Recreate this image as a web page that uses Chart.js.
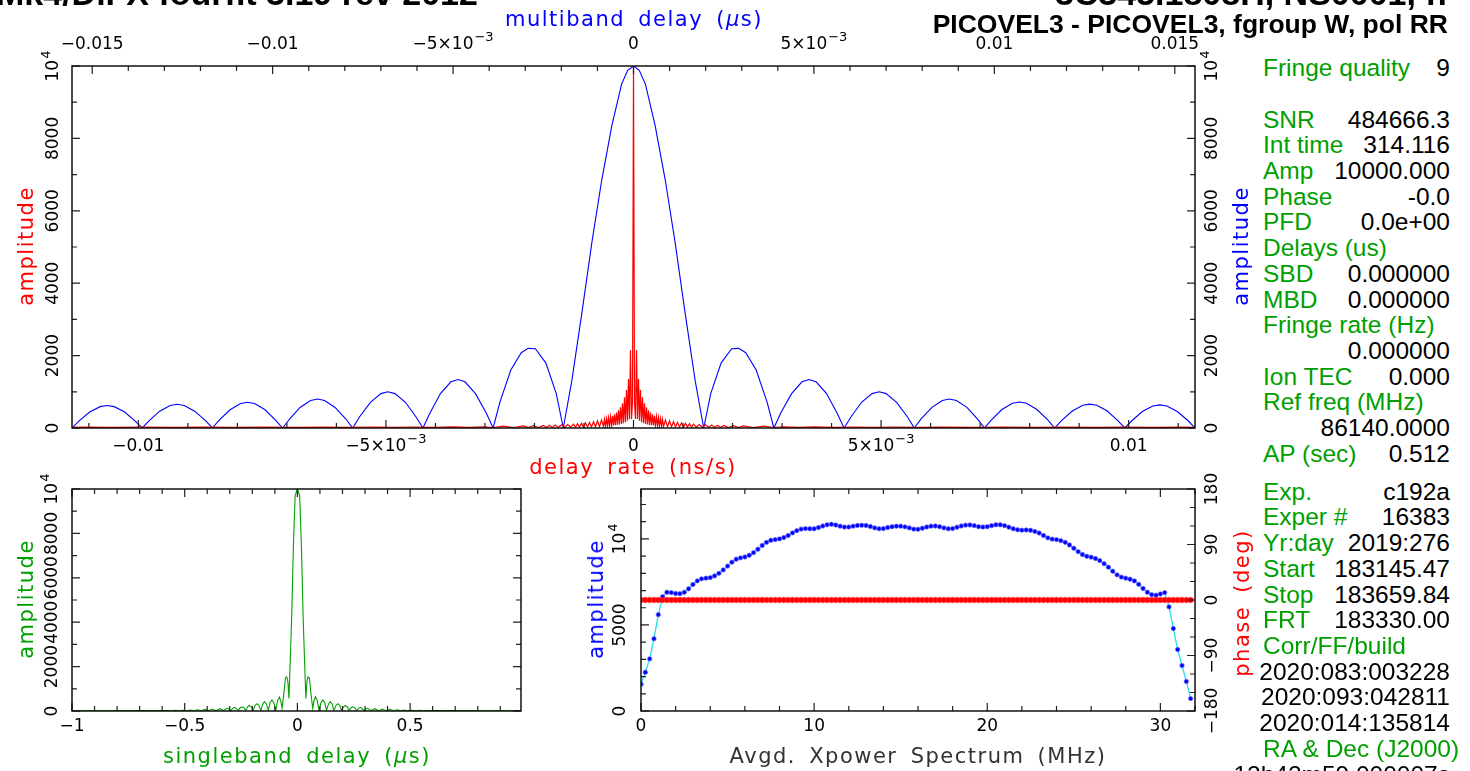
<!DOCTYPE html>
<html><head><meta charset="utf-8">
<script src="https://cdn.jsdelivr.net/npm/chart.js@4.4.0/dist/chart.umd.min.js"></script>
<style>
html,body{margin:0;padding:0;background:#fff;}
#wrap{position:relative;width:1470px;height:771px;overflow:hidden;background:#fff}
canvas{position:absolute}
.t{position:absolute;white-space:nowrap;font-family:"DejaVu Sans",sans-serif;font-size:21px;letter-spacing:1.5px;word-spacing:5px;line-height:24px}
.c{transform:translate(-50%,-50%)}
.v{transform:translate(-50%,-50%) rotate(-90deg)}
.hd{position:absolute;white-space:nowrap;font-family:"Liberation Sans",Arial,sans-serif;font-weight:bold;color:#000}
.row{position:absolute;left:1263px;width:187px;height:26px;font-family:"Liberation Sans",Arial,sans-serif;font-size:24.5px;line-height:26px;white-space:nowrap}
.row .l{color:#009f00;position:absolute;left:0;top:0}
.row .r{color:#000;position:absolute;right:0;top:0}
</style></head>
<body><div id="wrap">
<canvas id="cMain" width="1250" height="480" style="left:0;top:0"></canvas>
<canvas id="cSbd" width="560" height="311" style="left:0;top:460px"></canvas>
<canvas id="cSpec" width="690" height="311" style="left:560px;top:460px"></canvas>

<div class="hd" style="left:-4px;top:-24px;font-size:34px;line-height:34px">Mk4/DiFX fourfit 3.19 rev 2012</div>
<div class="hd" style="right:22px;top:-24px;font-size:34px;line-height:34px">3C345.1808H, NS0001, ff</div>
<div class="hd" style="right:22px;top:9px;font-size:26.5px;line-height:30px">PICOVEL3 - PICOVEL3, fgroup W, pol RR</div>

<div class="t c" style="left:634px;top:19px;color:#0000ff">multiband delay (<i>μ</i>s)</div>
<div class="t c" style="left:633px;top:467px;color:#ff0000">delay rate (ns/s)</div>
<div class="t v" style="left:26px;top:246px;color:#ff0000">amplitude</div>
<div class="t v" style="left:1241px;top:246px;color:#0000ff">amplitude</div>
<div class="t c" style="left:297px;top:756px;color:#009f00">singleband delay (<i>μ</i>s)</div>
<div class="t v" style="left:26px;top:599px;color:#009f00">amplitude</div>
<div class="t c" style="left:918px;top:756px;color:#333">Avgd. Xpower Spectrum (MHz)</div>
<div class="t v" style="left:596px;top:599px;color:#0000ff">amplitude</div>
<div class="t v" style="left:1242px;top:603px;color:#ff0000">phase (deg)</div>

<div class="row" style="top:55px"><span class="l">Fringe quality</span><span class="r">9</span></div>
<div class="row" style="top:107px"><span class="l">SNR</span><span class="r">484666.3</span></div>
<div class="row" style="top:132px"><span class="l">Int time</span><span class="r">314.116</span></div>
<div class="row" style="top:158px"><span class="l">Amp</span><span class="r">10000.000</span></div>
<div class="row" style="top:184px"><span class="l">Phase</span><span class="r">-0.0</span></div>
<div class="row" style="top:209px"><span class="l">PFD</span><span class="r">0.0e+00</span></div>
<div class="row" style="top:235px"><span class="l">Delays (us)</span></div>
<div class="row" style="top:261px"><span class="l">SBD</span><span class="r">0.000000</span></div>
<div class="row" style="top:287px"><span class="l">MBD</span><span class="r">0.000000</span></div>
<div class="row" style="top:312px"><span class="l">Fringe rate (Hz)</span></div>
<div class="row" style="top:338px"><span class="r">0.000000</span></div>
<div class="row" style="top:364px"><span class="l">Ion TEC</span><span class="r">0.000</span></div>
<div class="row" style="top:389px"><span class="l">Ref freq (MHz)</span></div>
<div class="row" style="top:415px"><span class="r">86140.0000</span></div>
<div class="row" style="top:441px"><span class="l">AP (sec)</span><span class="r">0.512</span></div>
<div class="row" style="top:479px"><span class="l">Exp.</span><span class="r">c192a</span></div>
<div class="row" style="top:504px"><span class="l">Exper #</span><span class="r">16383</span></div>
<div class="row" style="top:530px"><span class="l">Yr:day</span><span class="r">2019:276</span></div>
<div class="row" style="top:556px"><span class="l">Start</span><span class="r">183145.47</span></div>
<div class="row" style="top:582px"><span class="l">Stop</span><span class="r">183659.84</span></div>
<div class="row" style="top:607px"><span class="l">FRT</span><span class="r">183330.00</span></div>
<div class="row" style="top:633px"><span class="l">Corr/FF/build</span></div>
<div class="row" style="top:659px"><span class="r">2020:083:003228</span></div>
<div class="row" style="top:684px"><span class="r">2020:093:042811</span></div>
<div class="row" style="top:710px"><span class="r">2020:014:135814</span></div>
<div class="row" style="top:736px"><span class="l">RA &amp; Dec (J2000)</span></div>
<div class="row" style="top:762px"><span class="r">12h42m59.000007s</span></div>
</div>
<script>
// ---------- delay-rate spectrum (red, ns/s) ----------
const rateDelay = [
 -1.134e-2,-1.11e-2,-1.05e-2,-9.90e-3,-9.29e-3,-8.69e-3,-8.08e-3,-7.47e-3,-6.87e-3,-6.26e-3,-5.76e-3,-5.25e-3,-4.85e-3,-4.44e-3,-4.04e-3,-3.64e-3,-3.33e-3,-3.03e-3,-2.83e-3,-2.63e-3,-2.42e-3,-2.22e-3,-2.12e-3,-2.02e-3,-1.92e-3,-1.82e-3,-1.76e-3,-1.70e-3,-1.64e-3,-1.58e-3,-1.52e-3,-1.45e-3,-1.39e-3,-1.33e-3,-1.27e-3,-1.21e-3,-1.17e-3,-1.13e-3,-1.09e-3,-1.05e-3,-1.01e-3,
 -9.70e-4,-9.29e-4,-8.89e-4,-8.48e-4,-8.08e-4,-7.68e-4,-7.27e-4,-6.87e-4,-6.46e-4,-6.06e-4,-5.86e-4,-5.66e-4,-5.45e-4,-5.25e-4,-5.05e-4,-4.85e-4,-4.65e-4,-4.44e-4,-4.24e-4,-4.04e-4,-3.84e-4,-3.64e-4,-3.43e-4,-3.23e-4,-3.03e-4,-2.83e-4,-2.63e-4,-2.42e-4,-2.22e-4,-2.02e-4,-1.82e-4,-1.62e-4,-1.41e-4,-1.21e-4,-1.01e-4,-8.1e-5,-6.1e-5,-4.0e-5,-2.0e-5,
 0,
 2.0e-5,4.0e-5,6.1e-5,8.1e-5,1.01e-4,1.21e-4,1.41e-4,1.62e-4,1.82e-4,2.02e-4,2.22e-4,2.42e-4,2.63e-4,2.83e-4,3.03e-4,3.23e-4,3.43e-4,3.64e-4,3.84e-4,4.04e-4,4.24e-4,4.44e-4,4.65e-4,4.85e-4,5.05e-4,5.25e-4,5.45e-4,5.66e-4,5.86e-4,6.06e-4,6.46e-4,6.87e-4,7.27e-4,7.68e-4,8.08e-4,8.48e-4,8.89e-4,9.29e-4,9.70e-4,
 1.01e-3,1.05e-3,1.09e-3,1.13e-3,1.17e-3,1.21e-3,1.27e-3,1.33e-3,1.39e-3,1.45e-3,1.52e-3,1.58e-3,1.64e-3,1.70e-3,1.76e-3,1.82e-3,1.92e-3,2.02e-3,2.12e-3,2.22e-3,2.42e-3,2.63e-3,2.83e-3,3.03e-3,3.33e-3,3.64e-3,4.04e-3,4.44e-3,4.85e-3,5.25e-3,5.76e-3,6.26e-3,6.87e-3,7.47e-3,8.08e-3,8.69e-3,9.29e-3,9.90e-3,1.05e-2,1.11e-2,1.134e-2
];
const rateAmp = [
 18,24,16,24,16,25,16,25,17,26,17,27,18,28,18,30,18,33,14,50,13,56,14,62,15,70,16,75,17,82,18,90,20,98,22,108,24,118,26,128,28,
 140,30,155,32,175,35,195,38,220,42,240,46,260,50,280,55,310,60,340,68,380,75,430,85,490,95,570,110,680,130,850,160,1050,200,1350,250,2150,250,700,
 10000,
 700,250,2150,250,1350,200,1050,160,850,130,680,110,570,95,490,85,430,75,380,68,340,60,310,55,280,50,260,46,240,42,220,38,195,35,175,32,155,30,140,
 28,128,26,118,24,108,22,98,20,90,18,82,17,75,16,70,15,62,14,56,13,50,14,33,18,30,18,28,18,27,17,26,17,25,16,25,16,24,16,24,18
];

// ---------- multiband delay function (blue, microseconds) ----------
const mbdDelay = [
 -0.01556,-0.01537,-0.01507,-0.01478,-0.01459,-0.01439,-0.01410,-0.01381,-0.013615,
 -0.01342,-0.01313,-0.01284,-0.01264,-0.01245,-0.01216,-0.01186,-0.01167,
 -0.01148,-0.01118,-0.01089,-0.01070,-0.01050,-0.01021,-0.00992,-0.009725,
 -0.00953,-0.00924,-0.00895,-0.00875,-0.00856,-0.00827,-0.00797,-0.00778,
 -0.00759,-0.00729,-0.00700,-0.00681,-0.00661,-0.00632,-0.00603,-0.005835,
 -0.00564,-0.00535,-0.00506,-0.00486,-0.00467,-0.00438,-0.00408,-0.00389,
 -0.00370,-0.00340,-0.00311,-0.00292,-0.00272,-0.00243,-0.00214,-0.001945,
 -0.00171,-0.00142,-0.00115,-0.00088,-0.00060,-0.00033,-0.00016,0,
 0.00016,0.00033,0.00060,0.00088,0.00115,0.00142,0.00171,0.001945,
 0.00214,0.00243,0.00272,0.00292,0.00311,0.00340,0.00370,0.00389,
 0.00408,0.00438,0.00467,0.00486,0.00506,0.00535,0.00564,0.005835,
 0.00603,0.00632,0.00661,0.00681,0.00700,0.00729,0.00759,0.00778,
 0.00797,0.00827,0.00856,0.00875,0.00895,0.00924,0.00953,0.009725,
 0.00992,0.01021,0.01050,0.01070,0.01089,0.01118,0.01148,0.01167,
 0.01186,0.01216,0.01245,0.01264,0.01284,0.01313,0.01342,0.013615,
 0.01381,0.01410,0.01439,0.01459,0.01478,0.01507,0.01537,0.01556
];
const mbdAmp = [
 0,192,440,590,620,590,440,192,0,
 203,465,622,655,622,465,203,0,
 220,504,675,710,675,504,220,0,
 248,568,760,800,760,568,248,0,
 310,710,950,1000,950,710,310,0,
 415,950,1275,1340,1275,950,415,0,
 720,1600,2080,2200,2190,1800,950,0,
 1300,3250,5150,6850,8350,9500,9880,10000,
 9880,9500,8350,6850,5150,3250,1300,0,
 950,1800,2190,2200,2080,1600,720,0,
 415,950,1275,1340,1275,950,415,0,
 310,710,950,1000,950,710,310,0,
 250,570,760,800,760,570,250,0,
 225,510,685,720,685,510,225,0,
 205,470,627,660,627,470,205,0,
 200,455,610,640,610,455,200,0
];

// ---------- singleband delay function (green, microseconds) ----------
const sbdDelay = [
 -1.000,-0.900,-0.800,-0.700,-0.620,-0.572,-0.556,-0.540,-0.524,-0.508,-0.491,-0.475,-0.459,-0.443,-0.426,-0.410,-0.393,-0.377,-0.360,-0.344,
 -0.328,-0.311,-0.295,-0.287,-0.279,-0.271,-0.262,-0.254,-0.246,-0.238,-0.229,-0.221,-0.213,-0.205,-0.196,-0.188,-0.179,-0.171,-0.162,-0.154,
 -0.146,-0.138,-0.129,-0.121,-0.113,-0.105,-0.096,-0.088,-0.080,-0.073,-0.068,-0.060,-0.053,-0.047,-0.042,-0.0375,-0.031,-0.025,-0.018,-0.010,
 0,
 0.010,0.018,0.025,0.031,0.0375,0.042,0.047,0.053,0.060,0.068,0.073,0.080,0.088,0.096,0.105,0.113,0.121,0.129,0.138,0.146,
 0.154,0.162,0.171,0.179,0.188,0.196,0.205,0.213,0.221,0.229,0.238,0.246,0.254,0.262,0.271,0.279,0.287,0.295,0.311,0.328,
 0.344,0.360,0.377,0.393,0.410,0.426,0.443,0.459,0.475,0.491,0.508,0.524,0.540,0.556,0.572,0.620,0.700,0.800,0.900,0.990
];
const sbdAmp = [
 10,14,12,18,20,22,10,30,10,35,12,45,12,55,14,70,15,90,16,105,
 18,130,20,120,160,120,22,145,190,145,24,190,250,190,26,250,330,250,28,320,
 425,320,30,380,500,380,32,480,630,420,120,800,1500,1540,1300,560,2500,4360,7370,9700,
 10000,
 9700,7370,4360,2500,560,1300,1540,1500,800,120,420,640,480,32,380,500,380,30,320,420,
 320,28,250,330,250,26,190,250,190,24,145,190,145,22,120,160,120,20,130,18,
 105,16,90,15,70,14,55,12,45,12,35,10,30,10,22,20,18,12,14,10
];

// ---------- averaged cross-power spectrum (MHz) ----------
const specFreq = [
 0,0.25,0.5,0.75,1,1.25,1.5,1.75, 2,2.25,2.5,2.75,3,3.25,3.5,3.75,
 4,4.25,4.5,4.75,5,5.25,5.5,5.75, 6,6.25,6.5,6.75,7,7.25,7.5,7.75,
 8,8.25,8.5,8.75,9,9.25,9.5,9.75, 10,10.25,10.5,10.75,11,11.25,11.5,11.75,
 12,12.25,12.5,12.75,13,13.25,13.5,13.75, 14,14.25,14.5,14.75,15,15.25,15.5,15.75,
 16,16.25,16.5,16.75,17,17.25,17.5,17.75, 18,18.25,18.5,18.75,19,19.25,19.5,19.75,
 20,20.25,20.5,20.75,21,21.25,21.5,21.75, 22,22.25,22.5,22.75,23,23.25,23.5,23.75,
 24,24.25,24.5,24.75,25,25.25,25.5,25.75, 26,26.25,26.5,26.75,27,27.25,27.5,27.75,
 28,28.25,28.5,28.75,29,29.25,29.5,29.75, 30,30.25,30.5,30.75,31,31.25,31.5,31.75
];
const specAmp = [
 1560,2250,3030,4200,5600,6640,6900,6880, 6830,6820,6900,7100,7350,7560,7680,7720,
 7750,7850,8000,8200,8420,8650,8820,8900, 8950,9050,9200,9400,9620,9800,9920,9960,
 10000,10080,10200,10350,10480,10570,10600,10590, 10590,10660,10750,10820,10850,10810,10740,10690,
 10690,10740,10780,10790,10780,10720,10640,10590, 10600,10660,10710,10740,10740,10700,10640,10570,
 10560,10620,10690,10740,10750,10710,10640,10590, 10600,10680,10750,10800,10810,10770,10710,10690,
 10710,10770,10820,10820,10770,10680,10590,10530, 10510,10520,10500,10430,10340,10200,10060,9990,
 9960,9900,9800,9650,9460,9260,9090,8990, 8940,8860,8740,8560,8360,8120,7910,7780,
 7720,7660,7560,7360,7120,6900,6760,6730, 6800,6880,6050,4790,3570,2640,1720,720
];
const specPhase = [
 0,0,0,0,0,0,0,0, 0,0,0,0,0,0,0,0, 0,0,0,0,0,0,0,0, 0,0,0,0,0,0,0,0,
 0,0,0,0,0,0,0,0, 0,0,0,0,0,0,0,0, 0,0,0,0,0,0,0,0, 0,0,0,0,0,0,0,0,
 0,0,0,0,0,0,0,0, 0,0,0,0,0,0,0,0, 0,0,0,0,0,0,0,0, 0,0,0,0,0,0,0,0,
 0,0,0,0,0,0,0,0, 0,0,0,0,0,0,0,0, 0,0,0,0,0,0,0,0, 0,0,0,0,0,0,0,0
];

// ---------- tick labels ('^' marks a superscript) ----------
const rateTickVals = [-0.01,-0.005,0,0.005,0.01];
const rateTickLabels = ['\u22120.01','\u22125\u00d710^\u22123','0','5\u00d710^\u22123','0.01'];
const mbdTickVals = [-0.015,-0.01,-0.005,0,0.005,0.01,0.015];
const mbdTickLabels = ['\u22120.015','\u22120.01','\u22125\u00d710^\u22123','0','5\u00d710^\u22123','0.01','0.015'];
const ampTickVals = [0,2000,4000,6000,8000,10000];
const ampTickLabels = ['0','2000','4000','6000','8000','10^4'];
const sbdTickVals = [-1,-0.5,0,0.5];
const sbdTickLabels = ['\u22121','\u22120.5','0','0.5'];
const specTickVals = [0,10,20,30];
const specTickLabels = ['0','10','20','30'];
const specAmpTickVals = [0,5000,10000];
const specAmpTickLabels = ['0','5000','10^4'];
const phaseTickVals = [-180,-90,0,90,180];
const phaseTickLabels = ['\u2212180','\u221290','0','90','180'];

function pts(xs, ys){ return xs.map((x,i)=>({x:x, y:ys[i]})); }

const F_MAIN = '17px "DejaVu Sans"', F_SUP = '13px "DejaVu Sans"';
function drawLabel(ctx, t, x, y){
  const parts = t.split('^');
  ctx.font = F_MAIN;
  if (parts.length === 1){ ctx.textAlign='center'; ctx.fillText(t, x, y); return; }
  const w1 = ctx.measureText(parts[0]).width;
  ctx.font = F_SUP;
  const w2 = ctx.measureText(parts[1]).width;
  const x0 = x - (w1 + w2 + 1)/2;
  ctx.textAlign = 'left';
  ctx.font = F_MAIN; ctx.fillText(parts[0], x0, y);
  ctx.font = F_SUP; ctx.fillText(parts[1], x0 + w1 + 1, y - 7);
  ctx.textAlign = 'center'; ctx.font = F_MAIN;
}

function makeAxes(axes){
  return {
    id:'pgAxes',
    afterDatasetsDraw(chart){
      const ctx = chart.ctx, a = chart.chartArea;
      ctx.save();
      for (const ax of axes){
        const s = chart.scales[ax.scale];
        const n0 = Math.ceil(s.min/ax.minor - 1e-6), n1 = Math.floor(s.max/ax.minor + 1e-6);
        ctx.lineWidth = 1.2; ctx.strokeStyle = '#222';
        ctx.beginPath();
        for (let n=n0;n<=n1;n++){
          const v = n*ax.minor, r = v/ax.major;
          const len = Math.abs(r-Math.round(r))<1e-6 ? 8 : 5;
          const p = s.getPixelForValue(v);
          if (ax.side==='bottom'){ctx.moveTo(p,a.bottom);ctx.lineTo(p,a.bottom-len);}
          else if (ax.side==='top'){ctx.moveTo(p,a.top);ctx.lineTo(p,a.top+len);}
          else if (ax.side==='left'){ctx.moveTo(a.left,p);ctx.lineTo(a.left+len,p);}
          else {ctx.moveTo(a.right,p);ctx.lineTo(a.right-len,p);}
        }
        ctx.stroke();
        if (ax.vals){
          ctx.fillStyle='#000'; ctx.textBaseline='middle';
          ax.vals.forEach((v,i)=>{
            const p = s.getPixelForValue(v), t = ax.texts[i];
            if (ax.side==='bottom') drawLabel(ctx,t,p,a.bottom+ax.off);
            else if (ax.side==='top') drawLabel(ctx,t,p,a.top-ax.off);
            else {
              const x = ax.side==='left' ? a.left-ax.off : a.right+ax.off;
              ctx.save(); ctx.translate(x,p); ctx.rotate(-Math.PI/2); drawLabel(ctx,t,0,0); ctx.restore();
            }
          });
        }
      }
      ctx.lineWidth=1.4; ctx.strokeStyle='#000';
      ctx.strokeRect(a.left,a.top,a.right-a.left,a.bottom-a.top);
      ctx.restore();
    }
  };
}

const base = {
  responsive:false, animation:false, events:[],
  plugins:{legend:{display:false}, tooltip:{enabled:false}}
};

// main fringe plot
new Chart(document.getElementById('cMain'), {
  type:'line',
  data:{datasets:[
    {data:pts(rateDelay,rateAmp), xAxisID:'xRate', yAxisID:'yL', borderColor:'#ff0000', borderWidth:1.2, pointRadius:0, tension:0},
    {data:pts(mbdDelay,mbdAmp), xAxisID:'xMbd', yAxisID:'yR', borderColor:'#0000ff', borderWidth:1.1, pointRadius:0, tension:0}
  ]},
  options:Object.assign({}, base, {
    layout:{padding:{left:72,right:55,top:66,bottom:52}},
    scales:{
      xRate:{type:'linear', display:false, min:-0.01134, max:0.01134},
      xMbd:{type:'linear', display:false, min:-0.01556, max:0.01556},
      yL:{type:'linear', display:false, min:0, max:10000},
      yR:{type:'linear', display:false, min:0, max:10000}
    }
  }),
  plugins:[makeAxes([
    {scale:'xRate', side:'bottom', major:0.005, minor:0.001, vals:rateTickVals, texts:rateTickLabels, off:19},
    {scale:'xMbd', side:'top', major:0.005, minor:0.001, vals:mbdTickVals, texts:mbdTickLabels, off:21},
    {scale:'yL', side:'left', major:2000, minor:1000, vals:ampTickVals, texts:ampTickLabels, off:18},
    {scale:'yR', side:'right', major:2000, minor:1000, vals:ampTickVals, texts:ampTickLabels, off:18}
  ])]
});

// singleband delay
new Chart(document.getElementById('cSbd'), {
  type:'line',
  data:{datasets:[
    {data:pts(sbdDelay,sbdAmp), xAxisID:'x', yAxisID:'y', borderColor:'#00a000', borderWidth:1.1, pointRadius:0, tension:0}
  ]},
  options:Object.assign({}, base, {
    layout:{padding:{left:72,right:39,top:29,bottom:60}},
    scales:{
      x:{type:'linear', display:false, min:-1, max:0.992},
      y:{type:'linear', display:false, min:0, max:10000}
    }
  }),
  plugins:[makeAxes([
    {scale:'x', side:'bottom', major:0.5, minor:0.1, vals:sbdTickVals, texts:sbdTickLabels, off:16},
    {scale:'x', side:'top', major:0.5, minor:0.1},
    {scale:'y', side:'left', major:2000, minor:1000, vals:ampTickVals, texts:ampTickLabels, off:19},
    {scale:'y', side:'right', major:2000, minor:1000}
  ])]
});

// cross-power spectrum
new Chart(document.getElementById('cSpec'), {
  type:'line',
  data:{datasets:[
    {data:pts(specFreq,specPhase), xAxisID:'x', yAxisID:'yP', borderColor:'#ff0000', borderWidth:1, pointRadius:2.8, pointBackgroundColor:'#ff0000', pointBorderColor:'#ff3030', pointBorderWidth:0.6, tension:0},
    {data:pts(specFreq,specAmp), xAxisID:'x', yAxisID:'yA', borderColor:'#1ee0f0', borderWidth:1.3, pointRadius:2.2, pointBackgroundColor:'#0000ff', pointBorderColor:'#6a6aff', pointBorderWidth:0.7, tension:0}
  ]},
  options:Object.assign({}, base, {
    layout:{padding:{left:81,right:55,top:29,bottom:60}},
    scales:{
      x:{type:'linear', display:false, min:0, max:32},
      yA:{type:'linear', display:false, min:0, max:12900},
      yP:{type:'linear', display:false, min:-180, max:180}
    }
  }),
  plugins:[makeAxes([
    {scale:'x', side:'bottom', major:10, minor:2, vals:specTickVals, texts:specTickLabels, off:16},
    {scale:'x', side:'top', major:10, minor:2},
    {scale:'yA', side:'left', major:5000, minor:1000, vals:specAmpTickVals, texts:specAmpTickLabels, off:20},
    {scale:'yP', side:'right', major:90, minor:30, vals:phaseTickVals, texts:phaseTickLabels, off:18}
  ])]
});
</script>
</body></html>
